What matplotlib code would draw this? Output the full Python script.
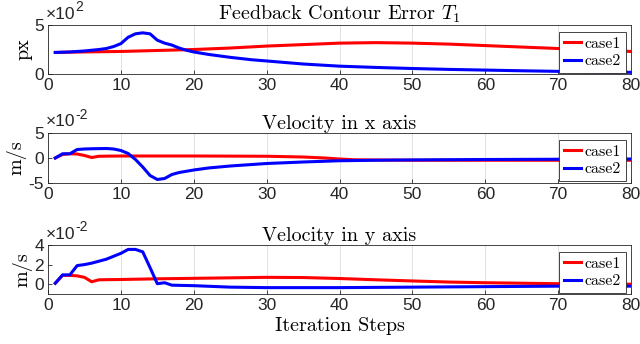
import matplotlib
matplotlib.use("Agg")
import matplotlib.pyplot as plt

plt.rcParams['mathtext.fontset'] = 'cm'

# ---- data ----
steps_ticks = [0, 10, 20, 30, 40, 50, 60, 70, 80]
series_names = ["case1", "case2"]

# Feedback contour error (px)
err_case1_x = [1, 5, 10, 15, 20, 25, 30, 35, 40, 45, 50, 55, 60, 65, 70, 75, 80]
err_case1_y = [220, 225, 230, 240, 250, 265, 285, 300, 315, 320, 315, 305, 290, 275, 260, 245, 230]
err_case2_x = [1, 3, 5, 7, 8, 9, 10, 11, 12, 13, 14, 15, 16, 17, 18, 19, 20, 22, 25, 28, 30,
               35, 40, 45, 50, 55, 60, 65, 70, 75, 80]
err_case2_y = [220, 225, 235, 250, 260, 280, 310, 375, 410, 420, 410, 345, 315, 295, 265, 242, 225,
               200, 170, 145, 133, 102, 80, 67, 56, 47, 40, 33, 27, 22, 17]

# Velocity in x axis (m/s)
vx_case1_x = [1, 2, 3, 4, 5, 6, 7, 10, 20, 30, 35, 38, 40, 42, 45, 50, 60, 70, 80]
vx_case1_y = [0.0, 0.007, 0.0085, 0.008, 0.005, 0.001, 0.0035, 0.004, 0.004, 0.0035, 0.002, 0.0,
              -0.002, -0.0035, -0.004, -0.0045, -0.0045, -0.0045, -0.0045]
vx_case2_x = [1, 2, 3, 4, 5, 6, 8, 9, 10, 11, 12, 13, 14, 15, 16, 17, 18, 20, 22, 25, 30, 35,
              40, 45, 50, 60, 70, 80]
vx_case2_y = [0.0, 0.0085, 0.0085, 0.017, 0.018, 0.0185, 0.019, 0.018, 0.015, 0.009, -0.003,
              -0.018, -0.035, -0.043, -0.041, -0.033, -0.029, -0.024, -0.020, -0.016, -0.011,
              -0.008, -0.0055, -0.0045, -0.0038, -0.003, -0.0025, -0.002]

# Velocity in y axis (m/s)
vy_case1_x = [1, 2, 3, 4, 5, 6, 7, 10, 15, 20, 25, 30, 35, 40, 45, 50, 55, 60, 65, 70, 75, 80]
vy_case1_y = [0.001, 0.009, 0.009, 0.0085, 0.007, 0.0025, 0.0045, 0.0048, 0.0055, 0.006, 0.0065,
              0.007, 0.0068, 0.0058, 0.0045, 0.0033, 0.0022, 0.0015, 0.001, 0.0005, 0.0002, 0.0]
vy_case2_x = [1, 2, 3, 4, 5, 6, 8, 10, 11, 12, 13, 14, 15, 16, 17, 20, 25, 30, 40, 50, 60, 70, 80]
vy_case2_y = [0.001, 0.0095, 0.0095, 0.019, 0.020, 0.0215, 0.0255, 0.0315, 0.0355, 0.0355, 0.033,
              0.017, 0.0005, 0.0015, -0.001, -0.0015, -0.003, -0.0035, -0.0035, -0.003, -0.0025,
              -0.002, -0.002]

panels = [
    dict(title=r"Feedback Contour Error $T_1$", ylabel="px", scale=1e2, exp="2",
         ylim=(0, 5), yticks=[0, 5],
         series=[(err_case1_x, err_case1_y), (err_case2_x, err_case2_y)]),
    dict(title="Velocity in x axis", ylabel="m/s", scale=1e-2, exp="-2",
         ylim=(-5, 5), yticks=[-5, 0, 5],
         series=[(vx_case1_x, vx_case1_y), (vx_case2_x, vx_case2_y)]),
    dict(title="Velocity in y axis", ylabel="m/s", scale=1e-2, exp="-2",
         ylim=(-1, 4), yticks=[0, 2, 4],
         series=[(vy_case1_x, vy_case1_y), (vy_case2_x, vy_case2_y)]),
]
colors = ["#ff0000", "#0000ff"]

fig = plt.figure(figsize=(6.4, 3.44), dpi=100)
rects = [
    [48 / 640, 1 - 74 / 344, 583 / 640, 49 / 344],
    [48 / 640, 1 - 183 / 344, 583 / 640, 50 / 344],
    [48 / 640, 1 - 294 / 344, 583 / 640, 49 / 344],
]
serif = ['cmr10', 'Liberation Serif', 'DejaVu Serif']
sans = 'Liberation Sans'
axcol = '#262626'

for i, (p, r) in enumerate(zip(panels, rects)):
    ax = fig.add_axes(r)
    for (xs, ys), c, name in zip(p["series"], colors, series_names):
        ax.plot(xs, [v / p["scale"] for v in ys], color=c, lw=2.2, label=name)
    ax.set_xlim(0, 80)
    ax.set_ylim(*p["ylim"])
    ax.set_xticks(steps_ticks)
    ax.set_yticks(p["yticks"])
    ax.set_yticklabels([str(t) for t in p["yticks"]])
    ax.set_xticklabels([str(t) for t in steps_ticks])
    ax.tick_params(direction='in', length=3, width=0.6, colors=axcol, labelsize=12.5, pad=3)
    for lab in ax.get_xticklabels() + ax.get_yticklabels():
        lab.set_fontfamily(sans)
        lab.set_color(axcol)
    for s in ax.spines.values():
        s.set_color(axcol)
        s.set_linewidth(0.6)
    ax.grid(axis='x', color='#dcdcdc', lw=0.6)
    ax.set_axisbelow(True)
    ax.set_title(p["title"], fontsize=14.5, family=serif, pad=3, color='black')
    ax.set_ylabel(p["ylabel"], fontsize=14.5, family=serif, labelpad=1)
    t1 = ax.text(-0.004, 1.07, "×10", transform=ax.transAxes, fontsize=12.5, family=sans,
                 color=axcol, ha='left', va='bottom')
    ax.annotate(p["exp"], xy=(1.0, 0.5), xycoords=t1, fontsize=10, family=sans,
                color=axcol, ha='left', va='bottom')
    leg = ax.legend(loc='upper right', bbox_to_anchor=(0.991, 0.86),
                    prop={'family': serif, 'size': 11.5}, handlelength=1.1,
                    handletextpad=0.2, borderpad=0.3, labelspacing=0.2,
                    borderaxespad=0.0, fancybox=False, framealpha=1.0)
    leg.get_frame().set_edgecolor('#262626')
    leg.get_frame().set_linewidth(0.6)
    if i == 2:
        ax.set_xlabel("Iteration Steps", fontsize=14.5, family=serif, labelpad=3)

fig.savefig("out.png", dpi=100)
